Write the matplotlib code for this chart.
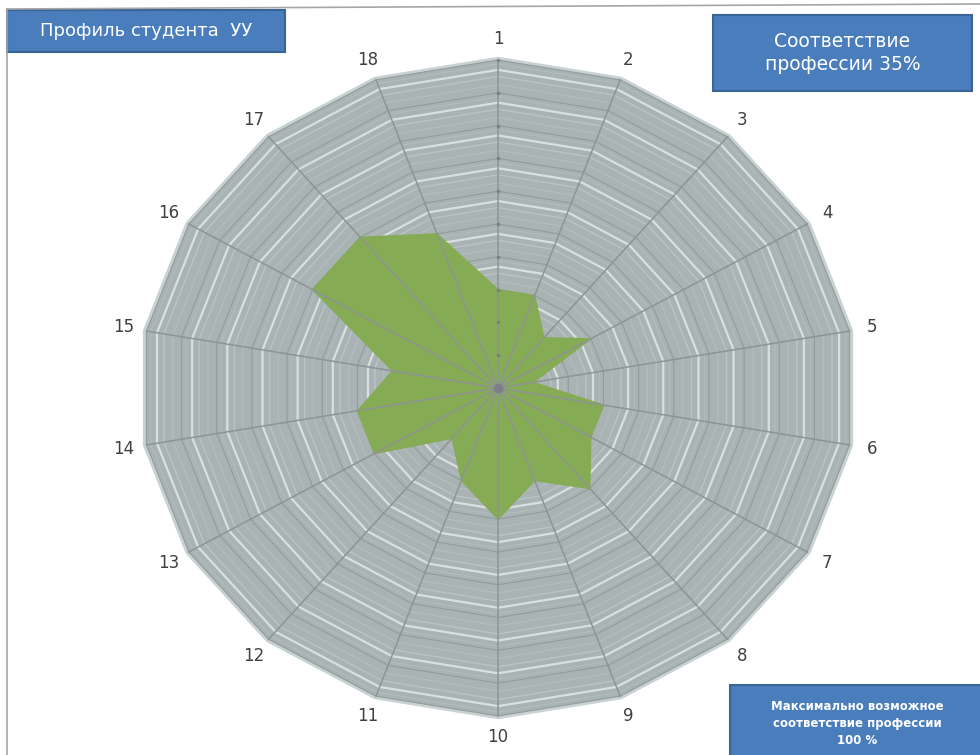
import numpy as np
import matplotlib.pyplot as plt
from matplotlib.patches import Polygon, Rectangle

# data
labels = [str(i) for i in range(1, 19)]
values = [3, 3, 2, 3, 1, 3, 3, 4, 3, 4, 3, 2, 4, 4, 3, 6, 6, 5]
rings = list(range(1, 11))
r_max = 10
title = 'Профиль студента  УУ'
match_text = 'Соответствие\nпрофессии 35%'
max_text = 'Максимально возможное\nсоответствие профессии\n100 %'

angles = np.deg2rad(90 - 20 * np.arange(len(labels)))
cx, cy = np.cos(angles), np.sin(angles)


def ring(r):
    return np.column_stack([r * cx, r * cy])


fig = plt.figure(figsize=(9.8, 7.55), dpi=100)
ax = fig.add_axes([0, 0, 1, 1])
ax.set_xlim(-13.95, 13.50)
ax.set_ylim(-11.19, 11.83)
ax.axis('off')

# grid background with striped look
ax.add_patch(Polygon(ring(r_max + 0.1), closed=True, fc='#c8d2d3', ec='none', zorder=1))
ax.add_patch(Polygon(ring(r_max), closed=True, fc='#a9b3b4', ec='none', zorder=1))
for r in rings:
    for off, col, lw, a in [(0.3, '#f4f8f8', 1.6, 0.65), (0.5, '#d0d8d8', 1.0, 0.45),
                            (0.75, '#c6cece', 0.8, 0.4), (0.12, '#c2caca', 0.8, 0.4)]:
        ax.add_patch(Polygon(ring(r - off), closed=True, fill=False, ec=col, lw=lw,
                             alpha=a, zorder=2))
    ax.add_patch(Polygon(ring(r), closed=True, fill=False, ec='#939b9b', lw=0.8, zorder=2))

# student profile
ax.fill(np.array(values) * cx, np.array(values) * cy, color='#86ab55', zorder=3)

# spokes
for x, y in zip(cx, cy):
    ax.plot([0, r_max * x], [0, r_max * y], color='#8f9393', lw=1.1, zorder=4)
ax.plot(np.zeros(len(rings)), rings, ls='none', marker='o', ms=1.6, color='#6f7777',
        alpha=0.6, zorder=5)
ax.plot(0, 0, marker='o', ms=6, color='#7d7d8c', zorder=5)

for lab, x, y in zip(labels, cx, cy):
    ax.text(10.65 * x, 10.65 * y, lab, ha='center', va='center', fontsize=12, color='#404040')

# frame
fig.add_artist(plt.Line2D([7 / 980, 1], [1 - 9 / 755, 1 - 4 / 755], color='#a6a6a6', lw=1.2))
fig.add_artist(plt.Line2D([7 / 980, 7 / 980], [0, 1 - 9 / 755], color='#a6a6a6', lw=1.2))


# boxes
def box(x0, y0, x1, y1, text, **kw):
    fig.add_artist(Rectangle((x0 / 980, 1 - y1 / 755), (x1 - x0) / 980, (y1 - y0) / 755,
                             transform=fig.transFigure, fc='#4a7dbb', ec='#3a6397', lw=1.5))
    fig.text((x0 + x1) / 2 / 980, 1 - (y0 + y1) / 2 / 755, text, ha='center', va='center',
             color='white', transform=fig.transFigure, **kw)


box(7, 10, 285, 52, title, fontsize=13)
box(713, 15, 972, 91, match_text, fontsize=13.5, linespacing=1.3)
box(730, 685, 985, 762, max_text, fontsize=8.5, fontweight='bold', linespacing=1.35)

fig.savefig('out.png', dpi=100)
